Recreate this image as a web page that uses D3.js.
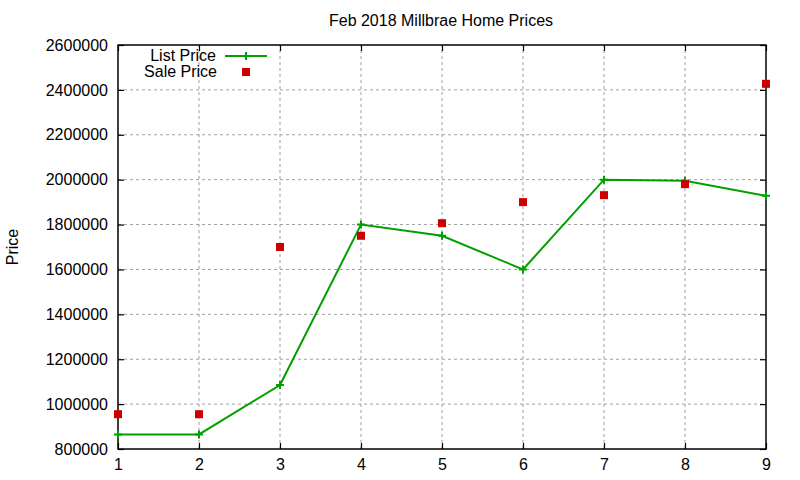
<!DOCTYPE html>
<html>
<head>
<meta charset="utf-8">
<script src="https://cdn.jsdelivr.net/npm/d3@7"></script>
<style>
  body { margin: 0; background: #fff; }
  svg text { font-family: "Liberation Sans", Arial, sans-serif; fill: #000; }
</style>
</head>
<body>
<svg id="chart" width="800" height="480"></svg>
<script>
// values
let days = [1, 2, 3, 4, 5, 6, 7, 8, 9];
let listPrice = [865000, 865000, 1085000, 1800000, 1750000, 1600000, 2000000, 1995000, 1928000];
let salePrice = [955000, 955000, 1700000, 1750000, 1806000, 1900000, 1931000, 1980000, 2427000];
let yTicks = [800000, 1000000, 1200000, 1400000, 1600000, 1800000, 2000000, 2200000, 2400000, 2600000];

let svg = d3.select("#chart");
let margin = {left: 118, right: 34, top: 45, bottom: 31};
let W = 800, H = 480;

let x = d3.scaleLinear().domain([1, 9]).range([margin.left, W - margin.right]);
let y = d3.scaleLinear().domain([800000, 2600000]).range([H - margin.bottom, margin.top]);

let green = "#00a000", red = "#cc0000";

// grid
let grid = svg.append("g").attr("stroke", "#a0a0a0").attr("stroke-dasharray", "3,3").attr("stroke-width", 1);
days.slice(1, -1).forEach(function(d) {
  grid.append("line").attr("x1", x(d)).attr("x2", x(d)).attr("y1", y.range()[0]).attr("y2", y.range()[1]);
});
yTicks.slice(1, -1).forEach(function(v) {
  grid.append("line").attr("x1", x.range()[0]).attr("x2", x.range()[1]).attr("y1", y(v)).attr("y2", y(v));
});

// axes with inward ticks, mirrored on top/right
let fmt = d3.format("d");
svg.append("g").attr("transform", `translate(${margin.left},0)`)
  .call(d3.axisLeft(y).tickValues(yTicks).tickFormat(fmt).tickSizeInner(-6).tickSizeOuter(0).tickPadding(10));
svg.append("g").attr("transform", `translate(${W - margin.right},0)`)
  .call(d3.axisRight(y).tickValues(yTicks).tickFormat("").tickSizeInner(-6).tickSizeOuter(0));
svg.append("g").attr("transform", `translate(0,${H - margin.bottom})`)
  .call(d3.axisBottom(x).tickValues(days).tickFormat(fmt).tickSizeInner(-6).tickSizeOuter(0).tickPadding(10));
svg.append("g").attr("transform", `translate(0,${margin.top})`)
  .call(d3.axisTop(x).tickValues(days).tickFormat("").tickSizeInner(-6).tickSizeOuter(0));
svg.selectAll(".domain").remove();
svg.selectAll(".tick line").attr("stroke", "#000").attr("stroke-width", 1.2);
svg.selectAll(".tick text").attr("font-size", 16).attr("font-family", "Liberation Sans, Arial, sans-serif").attr("fill", "#000");

svg.append("rect")
  .attr("x", x.range()[0]).attr("y", y.range()[1])
  .attr("width", x.range()[1] - x.range()[0]).attr("height", y.range()[0] - y.range()[1])
  .attr("fill", "none").attr("stroke", "#000").attr("stroke-width", 1.5);

// list price line with + markers
let line = d3.line().x((d, i) => x(days[i])).y(d => y(d));
svg.append("path").datum(listPrice).attr("d", line)
  .attr("fill", "none").attr("stroke", green).attr("stroke-width", 2);
function plus(g, cx, cy) {
  g.append("path").attr("d", `M${cx - 4},${cy}H${cx + 4}M${cx},${cy - 4}V${cy + 4}`)
    .attr("stroke", green).attr("stroke-width", 2);
}
listPrice.forEach(function(v, i) { plus(svg, x(days[i]), y(v)); });

// sale price squares
svg.selectAll("rect.sale").data(salePrice).enter().append("rect").attr("class", "sale")
  .attr("x", (d, i) => x(days[i]) - 4).attr("y", d => y(d) - 4)
  .attr("width", 8).attr("height", 8).attr("fill", red);

// legend
svg.append("text").attr("x", 216).attr("y", 61).attr("text-anchor", "end").attr("font-size", 16).text("List Price");
svg.append("line").attr("x1", 225).attr("x2", 267).attr("y1", 56).attr("y2", 56).attr("stroke", green).attr("stroke-width", 2);
plus(svg, 246, 56);
svg.append("text").attr("x", 217).attr("y", 77).attr("text-anchor", "end").attr("font-size", 16).text("Sale Price");
svg.append("rect").attr("x", 242).attr("y", 68).attr("width", 8).attr("height", 8).attr("fill", red);

// titles
svg.append("text").attr("x", 441).attr("y", 26).attr("text-anchor", "middle").attr("font-size", 16).text("Feb 2018 Millbrae Home Prices");
svg.append("text").attr("transform", "translate(18,247) rotate(-90)").attr("text-anchor", "middle").attr("font-size", 16).text("Price");
</script>
</body>
</html>
